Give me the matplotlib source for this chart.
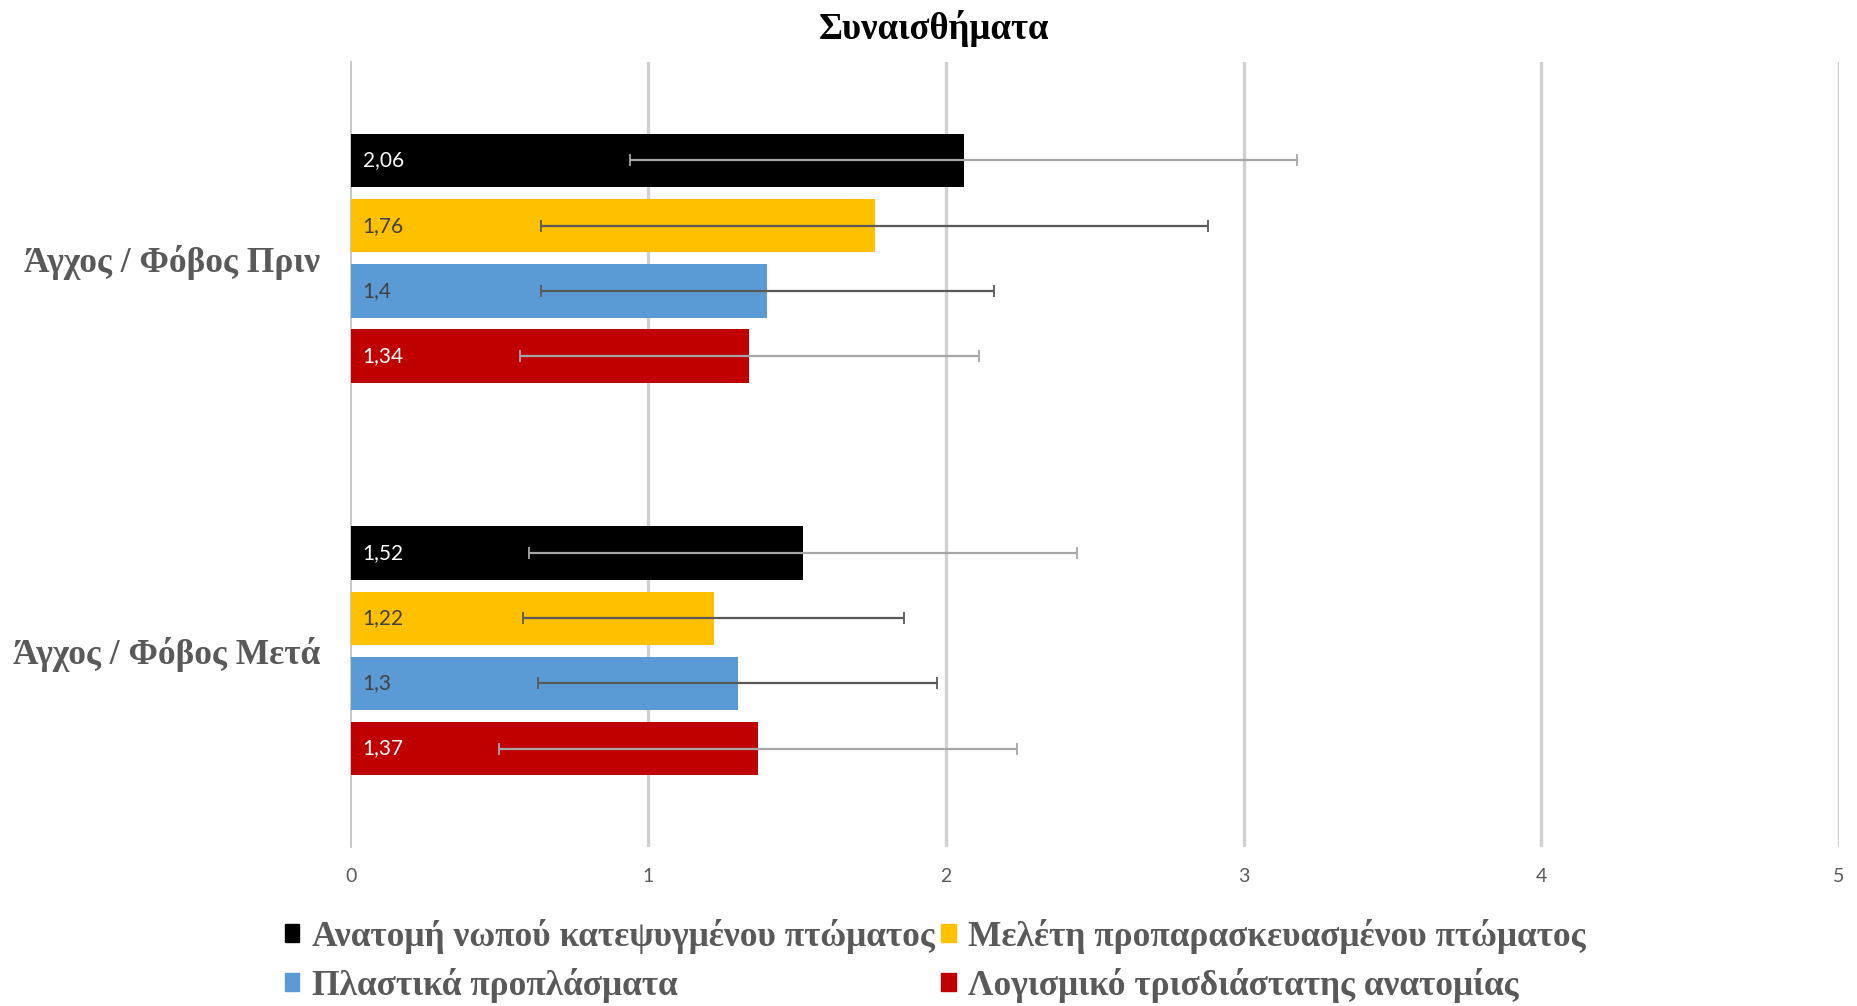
import matplotlib
matplotlib.use("Agg")
import matplotlib.pyplot as plt
from matplotlib.patches import Patch
import numpy as np

# Data
categories = ["Άγχος / Φόβος Πριν", "Άγχος / Φόβος Μετά"]
series_names = [
    "Ανατομή νωπού κατεψυγμένου πτώματος",
    "Μελέτη προπαρασκευασμένου πτώματος",
    "Πλαστικά προπλάσματα",
    "Λογισμικό τρισδιάστατης ανατομίας",
]
means = [
    [2.06, 1.52],
    [1.76, 1.22],
    [1.40, 1.30],
    [1.34, 1.37],
]
sds = [
    [1.12, 0.92],
    [1.12, 0.64],
    [0.76, 0.67],
    [0.77, 0.87],
]
x_ticks = [0, 1, 2, 3, 4, 5]

colors = ["#000000", "#FFC000", "#5B9BD5", "#C00000"]
err_colors = ["#A6A6A6", "#595959", "#595959", "#A6A6A6"]
label_colors = ["#FFFFFF", "#404040", "#404040", "#FFFFFF"]

serif = ["Liberation Serif", "DejaVu Serif"]
sans = ["Lato", "DejaVu Sans"]

fig = plt.figure(figsize=(18.57, 10.06), dpi=100)
ax = fig.add_axes([0.1888, 0.158, 0.8015, 0.7804])

y = np.arange(len(categories))
step = 0.166
height = 0.136
offsets = (np.arange(len(series_names)) - 1.5) * step

for i, name in enumerate(series_names):
    pos = y + offsets[i]
    ax.barh(pos, means[i], height=height, color=colors[i], zorder=2, label=name)
    ax.errorbar(means[i], pos, xerr=sds[i], fmt="none", ecolor=err_colors[i],
                elinewidth=1.6, capsize=4, capthick=1.3, zorder=3)
    for v, p in zip(means[i], pos):
        ax.text(0.04, p, f"{v:g}".replace(".", ","), va="center", ha="left",
                color=label_colors[i], fontsize=15, family=sans, zorder=4)

ax.set_xlim(0, 5)
ax.set_ylim(1.5, -0.5)
ax.set_xticks(x_ticks)
ax.set_xticklabels([str(t) for t in x_ticks], family=sans, fontsize=14, color="#595959")
ax.set_yticks(y)
ax.set_yticklabels(categories, family=serif, fontweight="bold", fontsize=25.5, color="#595959")
ax.tick_params(axis="both", length=0)
ax.tick_params(axis="y", pad=22)
ax.tick_params(axis="x", pad=15)

for t in x_ticks[1:]:
    ax.axvline(t, color="#D0D0D0", lw=2.4, zorder=1)
for s in ["top", "right", "bottom"]:
    ax.spines[s].set_visible(False)
ax.spines["left"].set_color("#BFBFBF")
ax.spines["left"].set_linewidth(1.2)
ax.spines["left"].set_zorder(1)

fig.text(0.503, 0.972, "Συναισθήματα", ha="center", va="center",
         family=serif, fontweight="bold", fontsize=26.5, color="#000000")

handles = [Patch(facecolor=c, edgecolor=c) for c in colors]
order = [0, 2, 1, 3]
leg = fig.legend([handles[k] for k in order], [series_names[k] for k in order],
                 ncol=2, loc="center left", bbox_to_anchor=(0.1535, 0.045), frameon=False,
                 prop={"family": serif, "weight": "bold", "size": 25.5},
                 handlelength=0.4, handleheight=0.4, handletextpad=0.35,
                 columnspacing=0.2, labelspacing=0.4, borderpad=0, borderaxespad=0)
for t in leg.get_texts():
    t.set_color("#595959")

fig.savefig("out.png", dpi=100, facecolor="white")
